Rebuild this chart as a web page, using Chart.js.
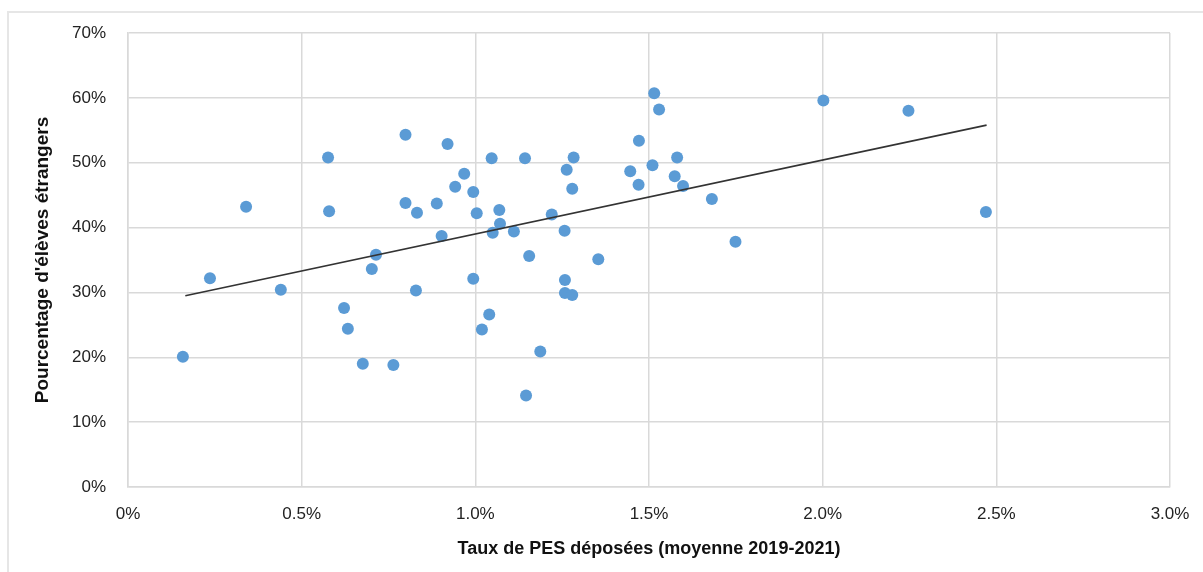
<!DOCTYPE html>
<html lang="fr">
<head>
<meta charset="utf-8">
<title>Taux de PES et élèves étrangers</title>
<script src="https://cdn.jsdelivr.net/npm/chart.js@4.4.1/dist/chart.umd.min.js"></script>
<style>
    html, body { margin: 0; padding: 0; background: #fff; }
    #frame {
        position: absolute; left: 7px; top: 11px; width: 1196px; height: 561px;
        border-top: 2px solid #e6e6e6; border-left: 2px solid #e6e6e6;
    }
    #wrap { position: absolute; left: 0; top: 0; width: 1203px; height: 572px; }
</style>
</head>
<body>
<div id="frame"></div>
<div id="wrap"><canvas id="scatterChart"></canvas></div>
<script>
// Taux de PES déposées (moyenne 2019-2021), en %
const pesRate = [
    0.158, 0.236, 0.34, 0.44, 0.576, 0.579, 0.622, 0.633, 0.676, 0.764,
    0.714, 0.702, 0.799, 0.799, 0.832, 0.829, 0.889, 0.903, 0.920, 0.942,
    0.968, 0.994, 1.004, 0.994, 1.047, 1.040, 1.019, 1.069, 1.071, 1.050,
    1.111, 1.143, 1.155, 1.146, 1.187, 1.220, 1.263, 1.257, 1.283, 1.279,
    1.258, 1.258, 1.279, 1.354, 1.446, 1.471, 1.470, 1.510, 1.515, 1.529,
    1.581, 1.574, 1.598, 1.681, 1.749, 2.002, 2.247, 2.470
];
// Pourcentage d'élèves étrangers, en %
const foreignPct = [
    20.1, 32.2, 43.2, 30.4, 50.8, 42.5, 27.6, 24.4, 19.0, 18.8,
    35.8, 33.6, 54.3, 43.8, 42.3, 30.3, 43.7, 38.7, 52.9, 46.3,
    48.3, 45.5, 42.2, 32.1, 50.7, 26.6, 24.3, 42.7, 40.6, 39.2,
    39.4, 50.7, 35.6, 14.1, 20.9, 42.0, 48.9, 39.5, 50.8, 46.0,
    31.9, 29.9, 29.6, 35.1, 48.7, 53.4, 46.6, 49.6, 60.7, 58.2,
    50.8, 47.9, 46.4, 44.4, 37.8, 59.6, 58.0, 42.4
];
// Droite de tendance (extrémités)
const trendX = [0.165, 2.472];
const trendY = [29.5, 55.8];

const xTicks = [0, 0.5, 1.0, 1.5, 2.0, 2.5, 3.0];
const yTicks = [0, 10, 20, 30, 40, 50, 60, 70];

const fontFamily = '"Liberation Sans Narrow", "Arial Narrow", "Liberation Sans", Arial, sans-serif';
const tickFont = { family: fontFamily, size: 17 };
const gridColor = '#d9d9d9';

const points = pesRate.map((x, i) => ({ x: x, y: foreignPct[i] }));
const trend = trendX.map((x, i) => ({ x: x, y: trendY[i] }));

const ctx = document.getElementById('scatterChart').getContext('2d');
new Chart(ctx, {
    type: 'scatter',
    data: {
        datasets: [
            {
                label: 'Tendance',
                data: trend,
                showLine: true,
                borderColor: '#333333',
                borderWidth: 1.6,
                pointRadius: 0,
                order: 0
            },
            {
                label: 'Communes',
                data: points,
                backgroundColor: '#5b9bd5',
                borderColor: '#5b9bd5',
                borderWidth: 0,
                pointRadius: 6,
                pointHoverRadius: 6,
                order: 1
            }
        ]
    },
    options: {
        responsive: true,
        maintainAspectRatio: false,
        animation: false,
        layout: { padding: { left: 0, right: 33, top: 33, bottom: 0 } },
        plugins: {
            legend: { display: false },
            tooltip: { enabled: false }
        },
        scales: {
            x: {
                type: 'linear',
                min: 0,
                max: 3,
                afterBuildTicks: scale => { scale.ticks = xTicks.map(v => ({ value: v })); },
                afterFit: scale => {
                    scale.height = 85;
                    scale.paddingLeft = 0;
                    scale.paddingRight = 0;
                },
                ticks: {
                    color: '#222',
                    font: tickFont,
                    padding: 17,
                    maxRotation: 0,
                    callback: v => v === 0 ? '0%' : v.toFixed(1) + '%'
                },
                grid: { color: gridColor, lineWidth: 1.5, drawTicks: false },
                border: { color: gridColor, width: 1.5 },
                title: {
                    display: true,
                    text: 'Taux de PES déposées (moyenne 2019-2021)',
                    color: '#111',
                    font: { family: fontFamily, size: 18, weight: 'bold' },
                    padding: { top: 0, bottom: 12 }
                }
            },
            y: {
                type: 'linear',
                min: 0,
                max: 70,
                afterBuildTicks: scale => { scale.ticks = yTicks.map(v => ({ value: v })); },
                afterFit: scale => { scale.width = 128; },
                ticks: {
                    color: '#222',
                    font: tickFont,
                    padding: 22,
                    callback: v => v + '%'
                },
                grid: { color: gridColor, lineWidth: 1.5, drawTicks: false },
                border: { color: gridColor, width: 1.5 },
                title: {
                    display: true,
                    text: "Pourcentage d'élèves étrangers",
                    color: '#111',
                    font: { family: fontFamily, size: 19, weight: 'bold' },
                    padding: { top: 31, bottom: 0 }
                }
            }
        }
    }
});
</script>
</body>
</html>
